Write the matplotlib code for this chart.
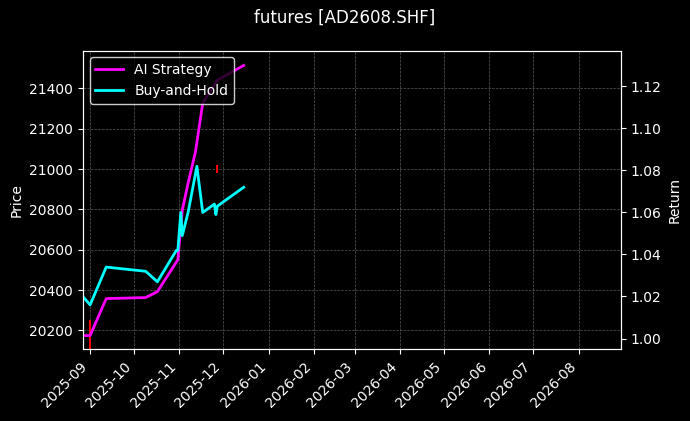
import matplotlib
matplotlib.use("Agg")
import matplotlib.pyplot as plt
import matplotlib.dates as mdates
import pandas as pd

ai_dates = ["2025-08-27","2025-09-01","2025-09-12","2025-10-09","2025-10-17","2025-10-31",
            "2025-11-03","2025-11-07","2025-11-12","2025-11-17","2025-11-27","2025-12-15"]
ai_ret = [1.0014,1.0014,1.019,1.0195,1.0223,1.0375,1.061,1.074,1.0887,1.112,1.123,1.130]
bh_dates = ["2025-08-27","2025-09-01","2025-09-12","2025-10-09","2025-10-17","2025-10-30","2025-10-31",
            "2025-11-02","2025-11-03","2025-11-07","2025-11-13","2025-11-17","2025-11-25","2025-11-26",
            "2025-11-27","2025-12-15"]
bh_ret = [1.020,1.016,1.034,1.032,1.027,1.042,1.042,1.060,1.049,1.060,1.082,1.060,1.064,1.059,1.063,1.072]
mark_dates = ["2025-09-01","2025-11-27"]
mark_low = [20100,20980]
mark_high = [20250,21020]

plt.style.use("dark_background")
fig, ax = plt.subplots(figsize=(6.9,4.21), dpi=100)
fig.subplots_adjust(left=0.12, right=0.9, top=0.88, bottom=0.17)
ax2 = ax.twinx()
md = pd.to_datetime(mark_dates)
ax.vlines(md, mark_low, mark_high, color="red", lw=1.5)
ax.set_ylim(20106, 21588)
ax.set_ylabel("Price")
ax2.plot(pd.to_datetime(ai_dates), ai_ret, color="#ff00ff", lw=2, label="AI Strategy")
ax2.plot(pd.to_datetime(bh_dates), bh_ret, color="#00ffff", lw=2, label="Buy-and-Hold")
ax2.set_ylim(0.9948, 1.1371)
ax2.set_ylabel("Return")
ax.set_xlim(pd.Timestamp("2025-08-27"), pd.Timestamp("2026-08-30"))
ax.xaxis.set_major_locator(mdates.MonthLocator())
ax.xaxis.set_major_formatter(mdates.DateFormatter("%Y-%m"))
plt.setp(ax.get_xticklabels(), rotation=45, ha="right")
ax.grid(True, ls="--", lw=0.5, color="gray", alpha=0.7)
leg = ax2.legend(loc="upper left", facecolor="black", edgecolor="white")
fig.suptitle("futures [AD2608.SHF]")
fig.savefig("out.png", dpi=100)
